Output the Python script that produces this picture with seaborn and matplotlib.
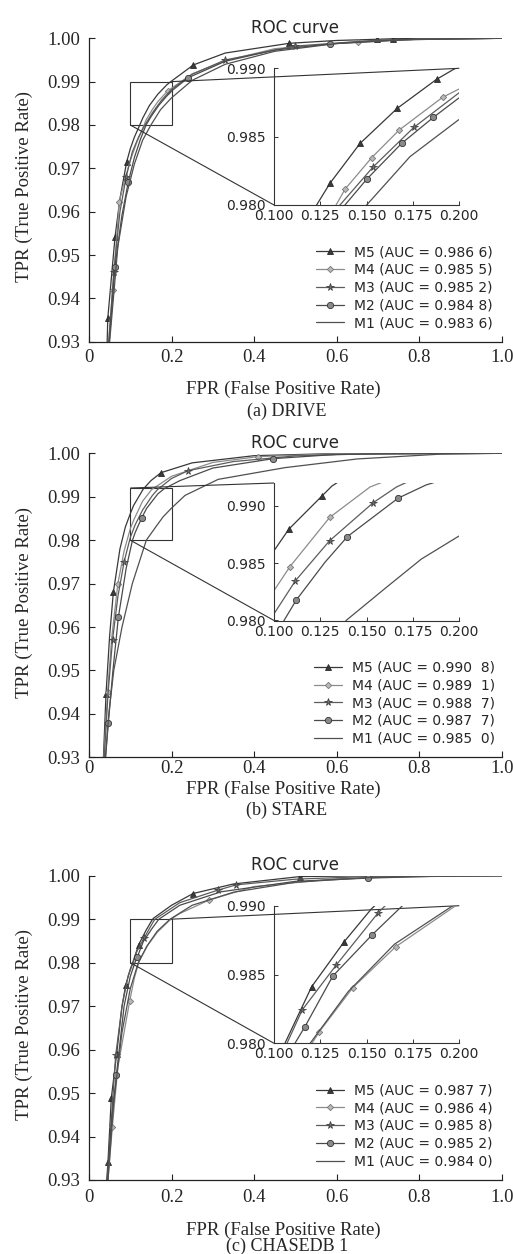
import numpy as np
import matplotlib
matplotlib.use("Agg")
import matplotlib.pyplot as plt
import seaborn as sns
from matplotlib.lines import Line2D
from mpl_toolkits.axes_grid1.inset_locator import mark_inset

# ---------------- data ----------------
MODELS = ["M5", "M4", "M3", "M2", "M1"]
CAPTIONS = ["(a) DRIVE", "(b) STARE", "(c) CHASEDB 1"]
DRIVE_AUC = ["0.986 6", "0.985 5", "0.985 2", "0.984 8", "0.983 6"]
STARE_AUC = ["0.990  8", "0.989  1", "0.988  7", "0.987  7", "0.985  0"]
CHASE_AUC = ["0.987 7", "0.986 4", "0.985 8", "0.985 2", "0.984 0"]

MAIN_XTICKS = [0, 0.2, 0.4, 0.6, 0.8, 1.0]
MAIN_XTICKLABELS = ["0", "0.2", "0.4", "0.6", "0.8", "1.0"]
MAIN_YTICKS = [0.93, 0.94, 0.95, 0.96, 0.97, 0.98, 0.99, 1.00]
ZOOM_XTICKS = [0.100, 0.125, 0.150, 0.175, 0.200]
ZOOM_YTICKS = [0.980, 0.985, 0.990]

# ---- DRIVE ----
DRIVE_M5_FPR = [0.044, 0.0455, 0.063, 0.075, 0.0913, 0.100, 0.110, 0.123, 0.1302, 0.1464, 0.1665, 0.1878, 0.1964, 0.2528, 0.330, 0.4855, 0.600, 0.697, 0.7375, 0.850, 1.0]
DRIVE_M5_TPR = [0.930, 0.9354, 0.9541, 0.9630, 0.9715, 0.9745, 0.9772, 0.9800, 0.98159, 0.9845, 0.98707, 0.98920, 0.98988, 0.99385, 0.9966, 0.99885, 0.99950, 0.99977, 0.99990, 1.0, 1.0]
DRIVE_M5_MK = [0.0455, 0.063, 0.0913, 0.2528, 0.4855, 0.697, 0.7375]
DRIVE_M5_ZMK = [0.1302, 0.1464, 0.1665, 0.1878]

DRIVE_M4_FPR = [0.0475, 0.0573, 0.0735, 0.085, 0.100, 0.115, 0.1335, 0.1383, 0.1527, 0.1676, 0.191, 0.1995, 0.250, 0.330, 0.450, 0.653, 0.800, 1.0]
DRIVE_M4_TPR = [0.930, 0.9419, 0.9623, 0.9668, 0.9718, 0.9758, 0.9800, 0.98115, 0.98346, 0.98549, 0.98788, 0.98846, 0.9918, 0.9948, 0.9976, 0.99923, 0.9998, 1.0]
DRIVE_M4_MK = [0.0573, 0.0735, 0.191, 0.653]
DRIVE_M4_ZMK = [0.1383, 0.1527, 0.1676, 0.191]

DRIVE_M3_FPR = [0.048, 0.060, 0.075, 0.090, 0.105, 0.120, 0.1356, 0.1536, 0.1755, 0.1995, 0.250, 0.330, 0.500, 0.700, 1.0]
DRIVE_M3_TPR = [0.930, 0.946, 0.9600, 0.9680, 0.9738, 0.9772, 0.9800, 0.9828, 0.98568, 0.98817, 0.9917, 0.9950, 0.9982, 0.9996, 1.0]
DRIVE_M3_MK = [0.060, 0.090, 0.330, 0.500]
DRIVE_M3_ZMK = [0.1536, 0.1755]

DRIVE_M2_FPR = [0.049, 0.063, 0.0795, 0.0953, 0.110, 0.125, 0.1383, 0.150, 0.1689, 0.186, 0.1995, 0.2407, 0.330, 0.450, 0.584, 0.750, 1.0]
DRIVE_M2_TPR = [0.930, 0.9473, 0.9590, 0.9669, 0.9725, 0.9768, 0.9800, 0.98188, 0.98451, 0.98641, 0.9878, 0.99092, 0.9947, 0.9973, 0.99869, 0.99965, 1.0]
DRIVE_M2_MK = [0.063, 0.0953, 0.2407, 0.584]
DRIVE_M2_ZMK = [0.150, 0.1689, 0.186]

DRIVE_M1_FPR = [0.050, 0.070, 0.090, 0.110, 0.130, 0.150, 0.1734, 0.1995, 0.250, 0.330, 0.450, 0.600, 0.800, 1.0]
DRIVE_M1_TPR = [0.930, 0.952, 0.9635, 0.9710, 0.9765, 0.9800, 0.98354, 0.98622, 0.9903, 0.9940, 0.9970, 0.9988, 0.9998, 1.0]

# ---- STARE ----
STARE_M5_FPR = [0.035, 0.0412, 0.050, 0.059, 0.075, 0.088, 0.100, 0.108, 0.1259, 0.1313, 0.150, 0.1745, 0.250, 0.400, 0.600, 1.0]
STARE_M5_TPR = [0.930, 0.9446, 0.9580, 0.9680, 0.9780, 0.9830, 0.98609, 0.98797, 0.99087, 0.99174, 0.9937, 0.99554, 0.9978, 0.99945, 0.99995, 1.0]
STARE_M5_MK = [0.0412, 0.059, 0.1745]
STARE_M5_ZMK = [0.108, 0.1259]

STARE_M4_FPR = [0.036, 0.045, 0.055, 0.070, 0.085, 0.100, 0.1086, 0.130, 0.1518, 0.200, 0.300, 0.410, 0.600, 1.0]
STARE_M4_TPR = [0.930, 0.9450, 0.9575, 0.9700, 0.9775, 0.98261, 0.9847, 0.98899, 0.99165, 0.9947, 0.9979, 0.99923, 0.9999, 1.0]
STARE_M4_MK = [0.045, 0.070, 0.410]
STARE_M4_ZMK = [0.1086, 0.130]

STARE_M3_FPR = [0.037, 0.046, 0.057, 0.070, 0.085, 0.100, 0.1116, 0.130, 0.1536, 0.1661, 0.200, 0.240, 0.350, 0.500, 0.700, 1.0]
STARE_M3_TPR = [0.930, 0.9445, 0.9570, 0.9670, 0.9750, 0.98058, 0.98348, 0.98696, 0.99029, 0.99165, 0.9942, 0.9960, 0.9981, 0.9994, 0.99995, 1.0]
STARE_M3_MK = [0.057, 0.085, 0.240]
STARE_M3_ZMK = [0.1116, 0.130, 0.1536]

STARE_M2_FPR = [0.040, 0.0469, 0.058, 0.0711, 0.090, 0.1054, 0.1121, 0.1276, 0.1396, 0.167, 0.1821, 0.220, 0.300, 0.4467, 0.600, 1.0]
STARE_M2_TPR = [0.930, 0.9380, 0.9500, 0.9622, 0.9735, 0.9800, 0.9818, 0.9851, 0.98732, 0.99068, 0.99183, 0.9937, 0.9966, 0.99877, 0.99975, 1.0]
STARE_M2_MK = [0.0469, 0.0711, 0.1276, 0.4467]
STARE_M2_ZMK = [0.1121, 0.1396, 0.167]

STARE_M1_FPR = [0.040, 0.048, 0.060, 0.080, 0.105, 0.1389, 0.1607, 0.1795, 0.1991, 0.2326, 0.313, 0.475, 0.650, 0.850, 1.0]
STARE_M1_TPR = [0.930, 0.940, 0.950, 0.960, 0.970, 0.980, 0.9829, 0.98536, 0.9873, 0.9903, 0.9940, 0.9967, 0.9987, 0.9998, 1.0]

# ---- CHASEDB1 ----
CHASE_M5_FPR = [0.043, 0.046, 0.054, 0.067, 0.080, 0.0889, 0.100, 0.1059, 0.1203, 0.1378, 0.1525, 0.156, 0.200, 0.2522, 0.350, 0.511, 0.700, 1.0]
CHASE_M5_TPR = [0.930, 0.9342, 0.9488, 0.9590, 0.9700, 0.9748, 0.9785, 0.9800, 0.98411, 0.98737, 0.98976, 0.9902, 0.9932, 0.9959, 0.9981, 0.9998, 1.0, 1.0]
CHASE_M5_MK = [0.046, 0.054, 0.067, 0.0889, 0.1203, 0.2522, 0.511]
CHASE_M5_ZMK = [0.1203, 0.1378]

CHASE_M4_FPR = [0.046, 0.0566, 0.070, 0.0986, 0.110, 0.1205, 0.1245, 0.1425, 0.1657, 0.1973, 0.220, 0.291, 0.400, 0.600, 0.800, 1.0]
CHASE_M4_TPR = [0.930, 0.9423, 0.9560, 0.9712, 0.9765, 0.9800, 0.98085, 0.98404, 0.98702, 0.98993, 0.9913, 0.9944, 0.9975, 0.9993, 0.9999, 1.0]
CHASE_M4_MK = [0.0566, 0.0986, 0.291]
CHASE_M4_ZMK = [0.1245, 0.1425, 0.1657]

CHASE_M3_FPR = [0.044, 0.055, 0.0647, 0.080, 0.095, 0.107, 0.1152, 0.1336, 0.1563, 0.160, 0.220, 0.3129, 0.357, 0.500, 0.700, 1.0]
CHASE_M3_TPR = [0.930, 0.9450, 0.9587, 0.9700, 0.9770, 0.9800, 0.98242, 0.98569, 0.9895, 0.9900, 0.9938, 0.9967, 0.9979, 0.9992, 0.9999, 1.0]
CHASE_M3_MK = [0.0647, 0.1336, 0.3129, 0.357]
CHASE_M3_ZMK = [0.1152, 0.1336, 0.1563]

CHASE_M2_FPR = [0.045, 0.055, 0.0663, 0.085, 0.100, 0.1113, 0.1167, 0.1317, 0.1527, 0.1693, 0.220, 0.320, 0.500, 0.6766, 0.850, 1.0]
CHASE_M2_TPR = [0.930, 0.9440, 0.9541, 0.9700, 0.9768, 0.9800, 0.98121, 0.98488, 0.98785, 0.9900, 0.9932, 0.9963, 0.9987, 0.99945, 0.9999, 1.0]
CHASE_M2_MK = [0.0663, 0.1167, 0.6766]
CHASE_M2_ZMK = [0.1167, 0.1317, 0.1527]

CHASE_M1_FPR = [0.046, 0.060, 0.080, 0.100, 0.1195, 0.140, 0.165, 0.1965, 0.250, 0.350, 0.500, 0.700, 1.0]
CHASE_M1_TPR = [0.930, 0.9480, 0.9640, 0.9740, 0.9800, 0.98375, 0.9872, 0.9900, 0.9932, 0.9962, 0.9985, 0.9997, 1.0]

# ---------------- styling ----------------
STYLE = {
    "M5": dict(color="#383838", marker="^", markersize=4.5, markerfacecolor="#3a3a3a", markeredgecolor="#2a2a2a"),
    "M4": dict(color="#8c8c8c", marker="D", markersize=3.2, markerfacecolor="#b8b8b8", markeredgecolor="#777777"),
    "M3": dict(color="#5c5c5c", marker="*", markersize=5.5, markerfacecolor="#707070", markeredgecolor="#444444"),
    "M2": dict(color="#4a4a4a", marker="o", markersize=4.5, markerfacecolor="#8a8a8a", markeredgecolor="#333333"),
    "M1": dict(color="#505050", marker=""),
}
LW = 0.9

sns.set_theme(style="ticks")
plt.rcParams["font.family"] = ["DejaVu Sans"]
SERIF = "Liberation Serif"
SANS = "DejaVu Sans"

W, H = 513, 1254
fig = plt.figure(figsize=(W / 100, H / 100), dpi=100)
fig.patch.set_facecolor("white")


def px_axes(left, top, right, bottom):
    return fig.add_axes([left / W, 1 - bottom / H, (right - left) / W, (bottom - top) / H])


def curves_for(prefix):
    g = globals()
    out = []
    for m in MODELS:
        fpr = g[f"{prefix}_{m}_FPR"]
        tpr = g[f"{prefix}_{m}_TPR"]
        mk = g.get(f"{prefix}_{m}_MK", [])
        zmk = g.get(f"{prefix}_{m}_ZMK", [])
        out.append((m, fpr, tpr, mk, zmk))
    return out


def draw(ax, m, fpr, tpr, marks):
    st = dict(STYLE[m])
    idx = [i for i, f in enumerate(fpr) if f in marks]
    kw = dict(color=st.pop("color"), linewidth=LW)
    if st.get("marker"):
        kw.update(st)
        kw["markevery"] = idx if idx else []
        kw["markeredgewidth"] = 0.6
    sns.lineplot(x=fpr, y=tpr, ax=ax, sort=False, estimator=None, legend=False, **kw)


PANELS = [
    # prefix, auc, main(l,t,r,b), inset(l,t,r,b), inset ylim top, locs, xtick pad, xlabel y, caption y, legend x
    ("DRIVE", DRIVE_AUC, (89, 38.3, 501.7, 341.7), (274, 68.3, 459.3, 205.0), 0.990, (1, 3), 5.6, 389, 411, 0.978),
    ("STARE", STARE_AUC, (89, 453.3, 501.7, 757.3), (274, 483.0, 459.3, 620.5), 0.992, (2, 3), 2.0, 789, 810.5, 0.984),
    ("CHASE", CHASE_AUC, (89, 875.7, 501.7, 1180.0), (274, 905.7, 459.3, 1043.3), 0.990, (1, 3), 6.8, 1230.5, 1246.5, 0.978),
]

for p, (prefix, aucs, mpos, ipos, ytop, locs, xpad, xlab_y, cap_y, legx) in enumerate(PANELS):
    ax = px_axes(*mpos)
    axins = px_axes(*ipos)
    curves = curves_for(prefix)
    for m, fpr, tpr, mk, zmk in curves:
        draw(ax, m, fpr, tpr, mk)
        draw(axins, m, fpr, tpr, zmk)

    # main axes
    ax.set_xlim(0, 1.0)
    ax.set_ylim(0.93, 1.0)
    ax.set_xticks(MAIN_XTICKS)
    ax.set_xticklabels(MAIN_XTICKLABELS, fontfamily=SERIF, fontsize=13.5)
    ax.set_yticks(MAIN_YTICKS)
    ax.set_yticklabels([f"{v:.2f}" for v in MAIN_YTICKS], fontfamily=SERIF, fontsize=13.5)
    ax.tick_params(axis="both", direction="in", length=4, width=0.8, color="#222222")
    ax.tick_params(axis="x", pad=xpad)
    ax.tick_params(axis="y", pad=6.5)
    for s in ["top", "right"]:
        ax.spines[s].set_visible(False)
    for s in ["left", "bottom"]:
        ax.spines[s].set_linewidth(0.9)
        ax.spines[s].set_color("#222222")
    ax.set_xlabel("FPR (False Positive Rate)", fontfamily=SERIF, fontsize=13.5)
    ax.set_ylabel("TPR (True Positive Rate)", fontfamily=SERIF, fontsize=13.5)
    axh = mpos[3] - mpos[1]
    axw = mpos[2] - mpos[0]
    ax.xaxis.set_label_coords((283 - mpos[0]) / axw, -(xlab_y - mpos[3]) / axh)
    ax.xaxis.label.set_verticalalignment("center")
    ax.yaxis.set_label_coords((24 - mpos[0]) / axw, 0.51)
    ax.yaxis.label.set_verticalalignment("center")
    ax.set_title("ROC curve", fontfamily=SANS, fontsize=12, pad=4)

    # inset axes
    axins.set_facecolor("none")
    axins.set_xlim(0.1, 0.2)
    axins.set_ylim(0.98, ytop)
    axins.set_xticks(ZOOM_XTICKS)
    axins.set_xticklabels([f"{v:.3f}" for v in ZOOM_XTICKS], fontfamily=SANS, fontsize=10)
    axins.set_yticks(ZOOM_YTICKS)
    axins.set_yticklabels([f"{v:.3f}" for v in ZOOM_YTICKS], fontfamily=SANS, fontsize=10)
    axins.tick_params(axis="both", direction="in", length=3, width=0.7, color="#333333")
    axins.tick_params(axis="x", pad=3)
    axins.tick_params(axis="y", pad=6)
    for s in ["top", "right"]:
        axins.spines[s].set_visible(False)
    for s in ["left", "bottom"]:
        axins.spines[s].set_linewidth(0.8)
        axins.spines[s].set_color("#333333")
    axins.set_xlabel("")
    axins.set_ylabel("")
    mark_inset(ax, axins, loc1=locs[0], loc2=locs[1], fc="none", ec="#333333", lw=0.8)

    # legend
    handles = []
    for m in MODELS:
        st = dict(STYLE[m])
        col = st.pop("color")
        h = Line2D([0], [0], color=col, linewidth=LW, markeredgewidth=0.6, **st)
        handles.append(h)
    labels = [f"{m} (AUC = {a})" for m, a in zip(MODELS, aucs)]
    ax.legend(handles, labels, loc="lower right", bbox_to_anchor=(legx, 0.038),
              frameon=False, prop={"family": SANS, "size": 10}, handlelength=2.0,
              handletextpad=0.7, labelspacing=0.27, borderpad=0, borderaxespad=0)

    fig.text(287 / W, 1 - cap_y / H, CAPTIONS[p], ha="center", va="center",
             fontfamily=SERIF, fontsize=13)

fig.savefig("out.png", dpi=100, facecolor="white")
